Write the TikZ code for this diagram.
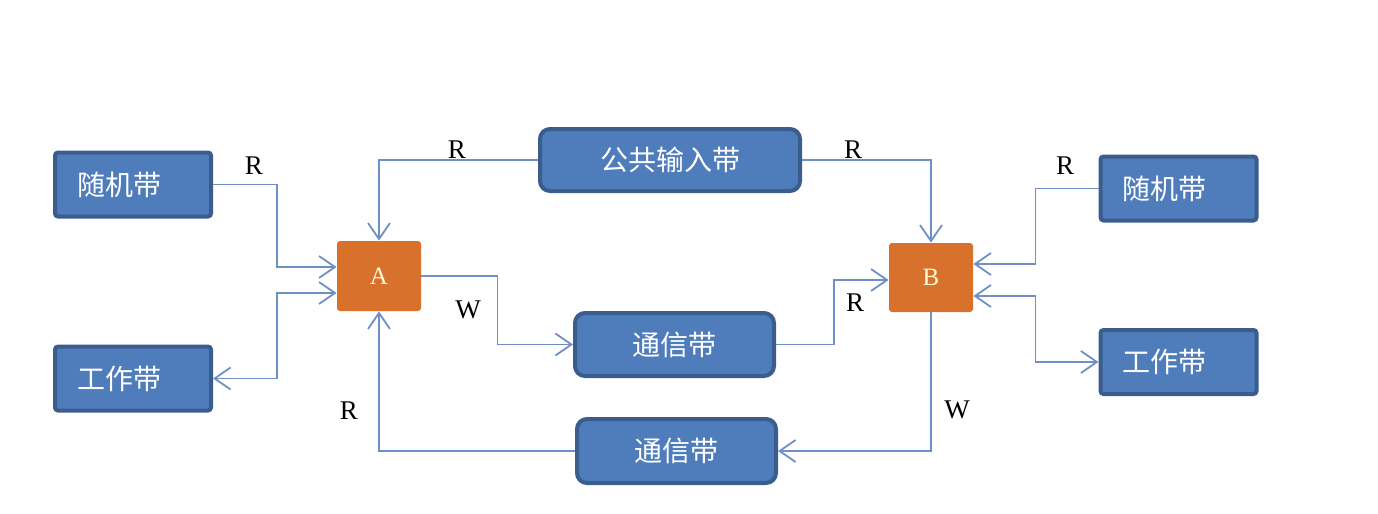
\documentclass[tikz,border=0pt]{standalone}
\usepackage{fontspec}
\setmainfont{Liberation Serif}
\newfontfamily\cjk{Noto Sans CJK SC}
\usetikzlibrary{arrows.meta, positioning, calc}
\definecolor{bandFill}{HTML}{4F7CBA}
\definecolor{bandEdge}{HTML}{3A5D8E}
\definecolor{procFill}{HTML}{D7712B}
\definecolor{linkCol}{HTML}{6F90C6}

\begin{document}
\begin{tikzpicture}[x=0.5pt, y=-0.5pt,
  band/.style={draw=bandEdge, line width=2pt, fill=bandFill, rounded corners=1.5pt,
    text=white, font=\cjk\fontsize{14}{16}\selectfont, inner sep=0pt},
  sband/.style={band, align=left, text width=56pt, inner xsep=11pt, minimum height=32pt},
  rband/.style={band, rounded corners=5pt},
  proc/.style={fill=procFill, rounded corners=1.5pt, text=yellow!15,
    font=\fontsize{12.5}{14}\selectfont, inner sep=0pt},
  link/.style={draw=linkCol, line width=0.9pt, -{Straight Barb[length=8pt,width=11pt]}},
  link2/.style={link, {Straight Barb[length=8pt,width=11pt]}-{Straight Barb[length=8pt,width=11pt]}},
  tag/.style={font=\fontsize{13.5}{15}\selectfont, inner sep=0pt}]
  \useasboundingbox (0,0) rectangle (1378,514);

  % tapes and processors
  \node[sband] (randL) at (133,184.5) {随机带};
  \node[sband] (workL) at (133,378.5) {工作带};
  \node[proc, minimum width=42pt, minimum height=35pt] (A) at (379,276) {A};
  \node[rband, minimum width=130pt, minimum height=31pt] (pub) at (670,160) {公共输入带};
  \node[rband, minimum width=99.5pt, minimum height=31.5pt] (comm1) at (674.5,344.5) {通信带};
  \node[rband, minimum width=99.5pt, minimum height=32pt] (comm2) at (676.5,451) {通信带};
  \node[proc, minimum width=42pt, minimum height=34.5pt] (B) at (931,277.5) {B};
  \node[sband] (randR) at (1178.5,188.5) {随机带};
  \node[sband] (workR) at (1178.5,362) {工作带};

  % connectors
  \draw[link] (randL.east) -- ++(64,0) |- ([yshift=4.5pt]A.west);
  \draw[link2] (workL.east) -- ++(64,0) |- ([yshift=-8.5pt]A.west);
  \draw[link] (pub.west) -| (A.north);
  \draw[link] (pub.east) -| (B.north);
  \draw[link] (A.east) -- ++(76,0) |- (comm1.west);
  \draw[link] (comm1.east) -- ++(58,0) |- ([yshift=-1.25pt]B.west);
  \draw[link] (B.south) |- (comm2.east);
  \draw[link] (comm2.west) -| (A.south);
  \draw[link] (randR.west) -- ++(-63,0) |- ([yshift=6.75pt]B.east);
  \draw[link2] (workR.west) -- ++(-63,0) |- ([yshift=-9.25pt]B.east);

  % access labels
  \node[tag] (rRandL) at (254,166) {R};
  \node[tag] (rPubL) at (457,150) {R};
  \node[tag] (rPubR) at (853,150) {R};
  \node[tag] (wA) at (468,310) {W};
  \node[tag] (rComm1) at (855,303) {R};
  \node[tag] (wB) at (957,410) {W};
  \node[tag] (rComm2) at (349,411) {R};
  \node[tag] (rRandR) at (1065,166) {R};
\end{tikzpicture}
\end{document}
